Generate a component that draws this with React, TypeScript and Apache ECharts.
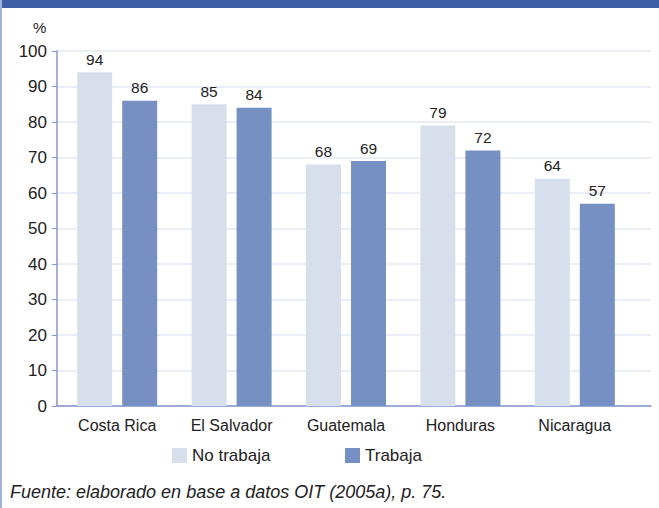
import React, { useEffect, useRef } from "react";
import * as echarts from "echarts";

const categories = ["Costa Rica", "El Salvador", "Guatemala", "Honduras", "Nicaragua"];
const noTrabaja = [94, 85, 68, 79, 64];
const trabaja = [86, 84, 69, 72, 57];
const yTicks = { min: 0, max: 100, interval: 10 };

const FONT = "'Liberation Sans', Arial, Helvetica, sans-serif";
const TXT = "#222";

export default function App() {
  const ref = useRef<HTMLDivElement>(null);
  useEffect(() => {
    const chart = echarts.init(ref.current!, null, { renderer: "svg" });
    chart.setOption({
      animation: false,
      backgroundColor: "#ffffff",
      textStyle: { fontFamily: FONT },
      grid: [
        { left: 57, right: 8, top: 51, bottom: 102, containLabel: false },
        { left: 60, right: 27, top: 51, bottom: 102, containLabel: false },
      ],
      legend: [
        {
          data: ["No trabaja"],
          left: 172,
          top: 447,
          padding: 0,
          itemWidth: 15,
          itemHeight: 15,
          itemGap: 6,
          icon: "rect",
          textStyle: { fontSize: 17, color: TXT, fontFamily: FONT },
        },
        {
          data: ["Trabaja"],
          left: 345,
          top: 447,
          padding: 0,
          itemWidth: 15,
          itemHeight: 15,
          icon: "rect",
          textStyle: { fontSize: 17, color: TXT, fontFamily: FONT },
        },
      ],
      xAxis: [
        {
          gridIndex: 0,
          type: "value",
          min: 0,
          max: 1,
          axisLine: { show: true, lineStyle: { color: "#8497cd", width: 1.5 } },
          axisTick: { show: false },
          axisLabel: { show: false },
          splitLine: { show: false },
        },
        {
          gridIndex: 1,
          type: "category",
          data: categories,
          axisLine: { show: false },
          axisTick: { show: false },
          axisLabel: { fontSize: 16, color: TXT, margin: 11, fontFamily: FONT },
        },
      ],
      yAxis: [
        {
          gridIndex: 0,
          type: "value",
          min: yTicks.min,
          max: yTicks.max,
          interval: yTicks.interval,
          axisLine: { show: true, lineStyle: { color: "#8497cd", width: 1.5 } },
          axisTick: { show: true, length: 5, lineStyle: { color: "#8497cd" } },
          axisLabel: { fontSize: 17, color: TXT, margin: 10, fontFamily: FONT },
          splitLine: { lineStyle: { color: "#e3e9f4", width: 1.5 } },
        },
        {
          gridIndex: 1,
          type: "value",
          min: yTicks.min,
          max: yTicks.max,
          interval: yTicks.interval,
          show: false,
          splitLine: { show: false },
        },
      ],
      series: [
        {
          name: "No trabaja",
          type: "bar",
          xAxisIndex: 1,
          yAxisIndex: 1,
          data: noTrabaja,
          barWidth: 35,
          barGap: "28.6%",
          itemStyle: { color: "#d7dfed" },
          label: { show: true, position: "top", distance: 5, fontSize: 15.5, color: TXT, fontFamily: FONT },
        },
        {
          name: "Trabaja",
          type: "bar",
          xAxisIndex: 1,
          yAxisIndex: 1,
          data: trabaja,
          barWidth: 35,
          barGap: "28.6%",
          itemStyle: { color: "#7690c4" },
          label: { show: true, position: "top", distance: 5, fontSize: 15.5, color: TXT, fontFamily: FONT },
        },
      ],
      graphic: [
        { type: "rect", left: 0, top: 0, shape: { width: 659, height: 8 }, style: { fill: "#3d5fa8" } },
        { type: "rect", left: 0, top: 0, shape: { width: 2, height: 508 }, style: { fill: "#9fb2dc" } },
        {
          type: "text",
          left: 33,
          top: 20,
          style: { text: "%", fontSize: 15, fill: TXT, fontFamily: FONT },
        },
        {
          type: "text",
          left: 10,
          top: 483,
          style: {
            text: "Fuente: elaborado en base a datos OIT (2005a), p. 75.",
            fontSize: 18,
            fontStyle: "italic",
            fill: TXT,
            fontFamily: FONT,
          },
        },
      ],
    });
    return () => chart.dispose();
  }, []);
  return <div ref={ref} style={{ width: 659, height: 508, position: "absolute", left: 0, top: 0 }} />;
}
